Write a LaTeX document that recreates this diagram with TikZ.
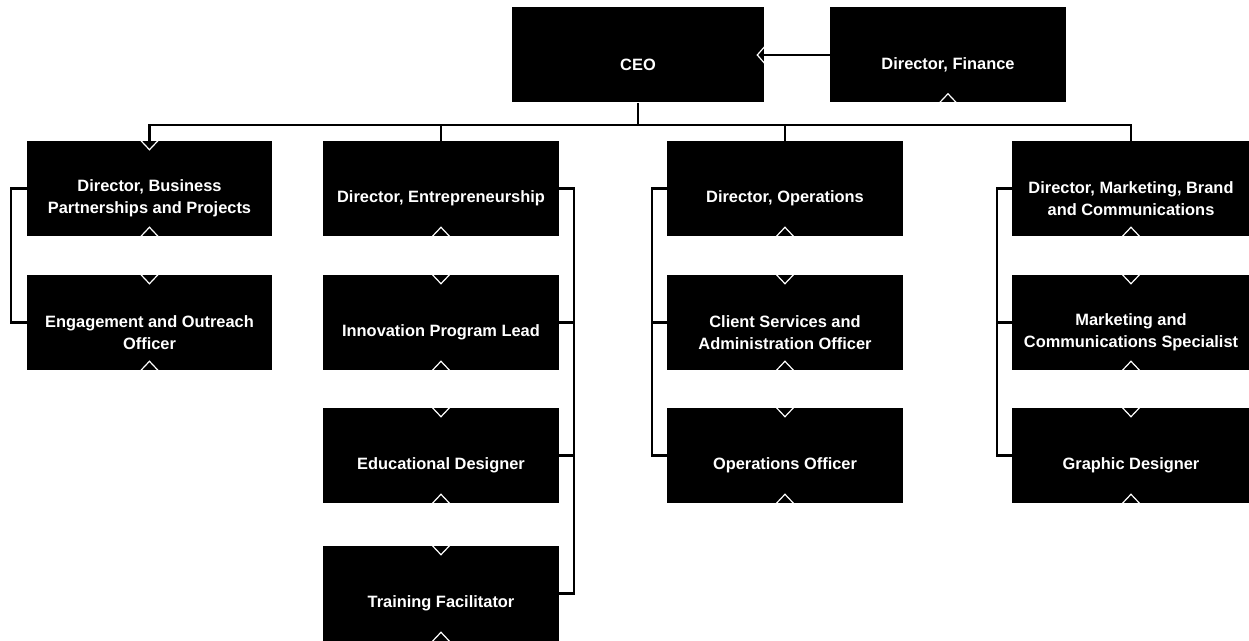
\documentclass[tikz,border=0pt]{standalone}
\usepackage{fontspec}
\setmainfont{Liberation Sans}
\begin{document}
\begin{tikzpicture}[x=0.75pt,y=-0.75pt,
  box/.style={fill=black,draw=none,inner sep=0pt,minimum height=71.25pt},
  w1/.style={minimum width=183.75pt},
  w2/.style={minimum width=177pt},
  w4/.style={minimum width=178.5pt},
  lbl/.style={text=white,align=center,inner sep=0pt,font=\bfseries\fontsize{12.3}{16.5}\selectfont},
  conn/.style={draw=black,line width=1.6pt},
  tick/.style={draw=white,line width=0.9pt}]
\useasboundingbox (0,0) rectangle (1249,641);
% top row
\node[box,minimum width=189pt] (ceo) at (638,55) {};
\node[box,w2] (fin) at (948,55) {};
% column 1
\node[box,w1] (d1) at (149.5,188.5) {};
\node[box,w1] (e1) at (149.5,322.5) {};
% column 2
\node[box,w2] (d2) at (441,188.5) {};
\node[box,w2] (i2) at (441,322.5) {};
\node[box,w2] (g2) at (441,455.5) {};
\node[box,w2] (t2) at (441,593.5) {};
% column 3
\node[box,w2] (d3) at (785,188.5) {};
\node[box,w2] (c3) at (785,322.5) {};
\node[box,w2] (o3) at (785,455.5) {};
% column 4
\node[box,w4] (d4) at (1131,188.5) {};
\node[box,w4] (m4) at (1131,322.5) {};
\node[box,w4] (p4) at (1131,455.5) {};
% labels
\node[lbl] (ceo-t) at ([yshift=-7.5pt]ceo.center) {CEO};
\node[lbl] (fin-t) at ([yshift=-7.5pt]fin.center) {Director, Finance};
\node[lbl] (d1-t) at ([yshift=-7.5pt]d1.center) {Director, Business\\Partnerships and Projects};
\node[lbl] (e1-t) at ([yshift=-7.5pt]e1.center) {Engagement and Outreach\\Officer};
\node[lbl] (d2-t) at ([yshift=-7.5pt]d2.center) {Director, Entrepreneurship};
\node[lbl] (i2-t) at ([yshift=-7.5pt]i2.center) {Innovation Program Lead};
\node[lbl] (g2-t) at ([yshift=-7.5pt]g2.center) {Educational Designer};
\node[lbl] (t2-t) at ([yshift=-7.5pt]t2.center) {Training Facilitator};
\node[lbl] (d3-t) at ([yshift=-7.5pt]d3.center) {Director, Operations};
\node[lbl] (c3-t) at ([yshift=-7.5pt]c3.center) {Client Services and\\Administration Officer};
\node[lbl] (o3-t) at ([yshift=-7.5pt]o3.center) {Operations Officer};
\node[lbl] (d4-t) at ([yshift=-7.5pt]d4.center) {Director, Marketing, Brand\\and Communications};
\node[lbl] (m4-t) at ([yshift=-7.5pt]m4.center) {Marketing and\\Communications Specialist};
\node[lbl] (p4-t) at ([yshift=-7.5pt]p4.center) {Graphic Designer};
% helper coordinates
\coordinate (bus) at (0,125);
\coordinate (s1) at (11,0);
\coordinate (s2) at (574,0);
\coordinate (s3) at (652,0);
\coordinate (s4) at (997,0);
% connectors
\draw[conn] (fin.west) -- (ceo.east);
\draw[conn] (ceo.south) -- (ceo.south |- bus);
\draw[conn] (d1.north) -- (d1.north |- bus) -- (d4.north |- bus) -- (d4.north);
\draw[conn] (d2.north) -- (d2.north |- bus);
\draw[conn] (d3.north) -- (d3.north |- bus);
\draw[conn] (d1.west) -- (d1.west -| s1) -- (e1.west -| s1) -- (e1.west);
\draw[conn] (d2.east) -- (d2.east -| s2) -- (t2.east -| s2) -- (t2.east);
\draw[conn] (i2.east) -- (i2.east -| s2);
\draw[conn] (g2.east) -- (g2.east -| s2);
\draw[conn] (d3.west) -- (d3.west -| s3) -- (o3.west -| s3) -- (o3.west);
\draw[conn] (c3.west) -- (c3.west -| s3);
\draw[conn] (d4.west) -- (d4.west -| s4) -- (p4.west -| s4) -- (p4.west);
\draw[conn] (m4.west) -- (m4.west -| s4);
% white chevrons
\draw[tick] ([yshift=6pt]ceo.east) -- ++(-7,8) -- ++(7,8);
\foreach \n in {d1,e1,i2,g2,t2,c3,o3,m4,p4}{
  \draw[tick] ([xshift=-6.4pt]\n.north) -- ++(8.5,9) -- ++(8.5,-9);
}
\foreach \n in {fin,d1,e1,d2,i2,g2,t2,d3,c3,o3,d4,m4,p4}{
  \draw[tick] ([xshift=-6.4pt]\n.south) -- ++(8.5,-9) -- ++(8.5,9);
}
\end{tikzpicture}
\end{document}
